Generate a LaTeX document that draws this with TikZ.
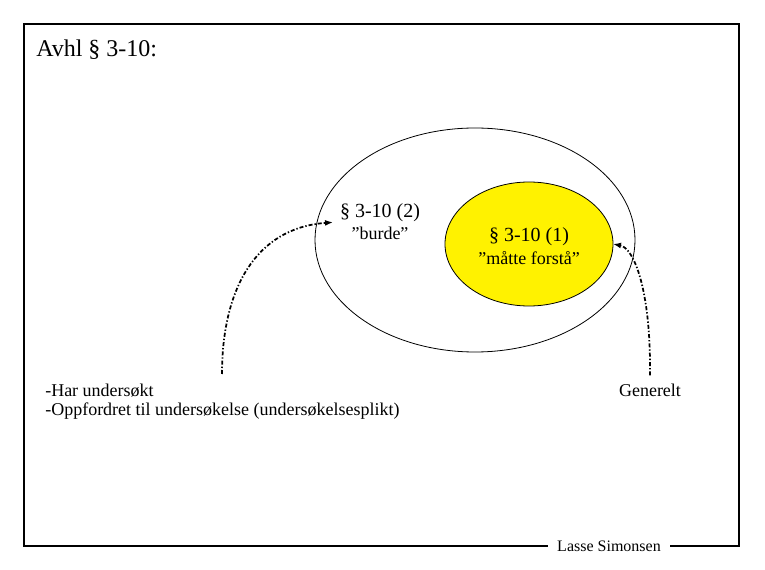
\documentclass[tikz,border=0pt]{standalone}
\usepackage{fontspec}
\setmainfont{Liberation Serif}
\usetikzlibrary{shapes.geometric,arrows.meta}
\begin{document}
\begin{tikzpicture}[x=0.75pt,y=-0.75pt,
  tekst/.style={inner sep=0pt,font=\fontsize{13.5}{16}\selectfont},
  paragraf/.style={inner sep=0pt,font=\fontsize{15}{18}\selectfont},
  pil/.style={line width=1.3pt,dash pattern=on 3pt off 1.5pt on 1pt off 1.5pt,
    -{Latex[length=6pt,width=4.5pt]}}]
\useasboundingbox (0,0) rectangle (765,570);
% ramme
\draw[line width=0.8pt] (24,24) rectangle (739,546);
\node[fill=white,inner xsep=7pt,inner ysep=2pt,font=\fontsize{12}{14}\selectfont] (navn) at (609,546) {Lasse Simonsen};
\node[inner sep=0pt,anchor=west,font=\fontsize{18}{22}\selectfont] (tittel) at (36,50) {Avhl § 3-10:};
% ellipser
\node[draw,ellipse,line width=0.6pt,outer sep=0pt,minimum width=240pt,minimum height=168pt] (ytre) at (475,240) {};
\node[draw,ellipse,fill=yellow,line width=0.6pt,outer sep=0pt,minimum width=126pt,minimum height=93pt] (p1) at (529,244) {};
\node[paragraf] (p1a) at (529,237) {§ 3-10 (1)};
\node[tekst] (p1b) at (529,258) {”måtte forstå”};
\node[paragraf] (p2a) at (380,213) {§ 3-10 (2)};
\node[tekst] (p2b) at (380,233) {”burde”};
% tekst nede
\node[tekst,anchor=west] (hu) at (45,391) {-Har undersøkt};
\node[tekst,anchor=west] (op) at (45,411) {-Oppfordret til undersøkelse (undersøkelsesplikt)};
\node[tekst] (gen) at (650,390) {Generelt};
% piler
\coordinate (start1) at (222,374);
\draw[pil] (start1) .. controls (222,290) and (255,228) .. ([xshift=-5pt]p2a.south west);
\draw[pil] ([yshift=6pt]gen.north) .. controls (651,290) and (634,248) .. (p1.east);
\end{tikzpicture}
\end{document}
